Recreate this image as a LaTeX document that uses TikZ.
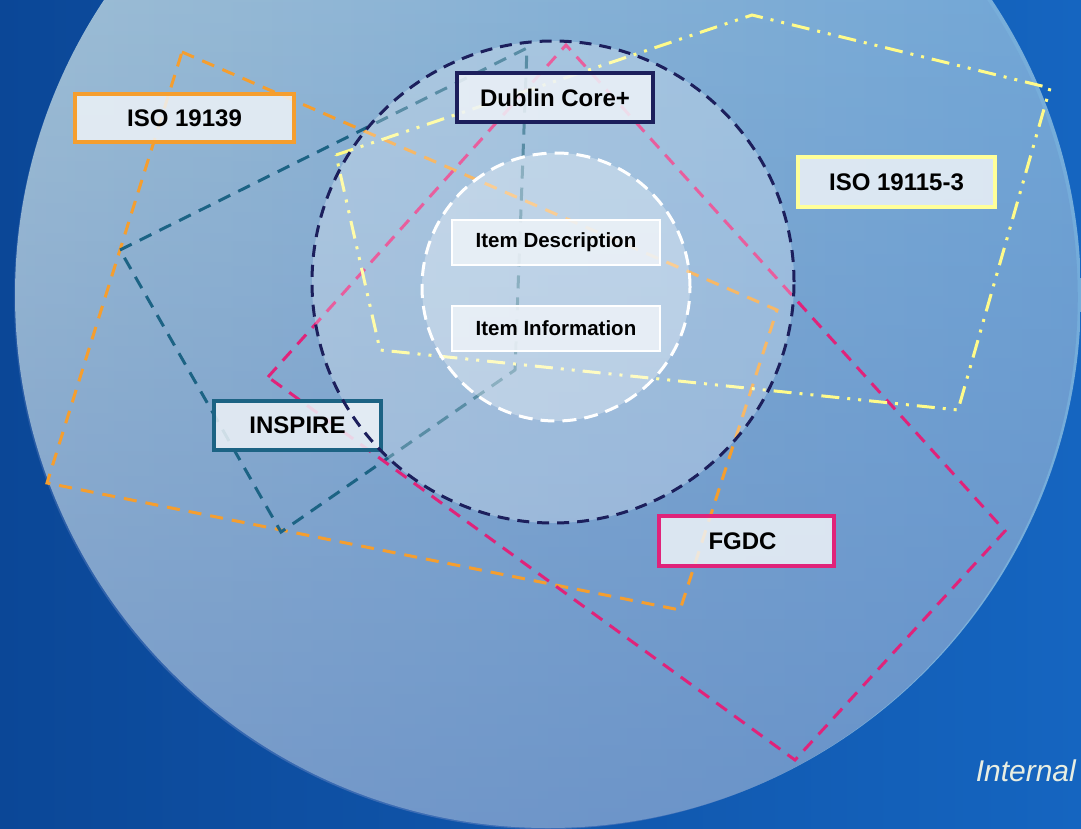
\documentclass[tikz,border=0pt]{standalone}
\usepackage{fontspec}
\setmainfont{Liberation Sans}
\usetikzlibrary{fadings}
\definecolor{bgdark}{HTML}{0B4797}
\definecolor{bglight}{HTML}{1565C0}
\definecolor{cirL}{HTML}{A8C7D8}
\definecolor{cirR}{HTML}{74ACDA}
\definecolor{cirD}{HTML}{5A7EBE}
\definecolor{orng}{HTML}{F59E2E}
\definecolor{teal}{HTML}{1C6384}
\definecolor{navy}{HTML}{1C1F5C}
\definecolor{pnk}{HTML}{E0237A}
\definecolor{yel}{HTML}{FFFB8A}
\definecolor{yelbox}{HTML}{FFFF99}
\definecolor{boxfill}{HTML}{EEF3F8}
\definecolor{inttext}{HTML}{E8EEE2}
\begin{document}
\begin{tikzpicture}[x=1pt,y=-1pt,
  dsh/.style={line width=3pt, dash pattern=on 13pt off 9pt},
  ydsh/.style={line width=3pt, dash pattern=on 18pt off 8pt on 3pt off 8pt on 3pt off 8pt},
  lbl/.style={draw, line width=3.3pt, fill=boxfill, fill opacity=0.85, draw opacity=1, text opacity=1,
    inner sep=0pt, text=black, font=\bfseries\fontsize{24}{28}\selectfont},
  itm/.style={lbl, draw=white, line width=2.8pt, font=\bfseries\fontsize{20.5}{24}\selectfont,
    minimum width=208pt, minimum height=45pt}]
\useasboundingbox (0,0) rectangle (1081,829);
\clip (0,0) rectangle (1081,829);
% background
\shade[left color=bgdark, right color=bglight] (0,0) rectangle (1081,829);
% big circle
\shade[left color=cirL, right color=cirR] (548,295) circle[radius=533pt];
\fill[cirD, opacity=0.6, path fading=north] (548,295) circle[radius=533pt];
% polygons
\coordinate (o1) at (182,52); \coordinate (o2) at (777,310);
\coordinate (o3) at (680,610); \coordinate (o4) at (47,483);
\draw[dsh, orng] (o1) -- (o2) -- (o3) -- (o4) -- cycle;
\coordinate (t1) at (120,250); \coordinate (t2) at (527,48);
\coordinate (t3) at (515,370); \coordinate (t4) at (281,532);
\draw[dsh, teal] (t1) -- (t2) -- (t3) -- (t4) -- cycle;
\coordinate (p1) at (268,377); \coordinate (p2) at (566,45);
\coordinate (p3) at (1005,531); \coordinate (p4) at (795,760);
\draw[dsh, pnk] (p1) -- (p2) -- (p3) -- (p4) -- cycle;
\coordinate (y1) at (336,155); \coordinate (y2) at (752,15);
\coordinate (y3) at (1050,88); \coordinate (y4) at (958,410);
\coordinate (y5) at (380,350);
\draw[ydsh, yel] (y1) -- (y2) -- (y3) -- (y4) -- (y5) -- cycle;
% circles
\coordinate (dc) at (553,282);
\coordinate (wc) at (556,287);
\fill[white, opacity=0.27] (dc) circle[radius=241pt];
\fill[white, opacity=0.3] (wc) circle[radius=134pt];
\draw[white, line width=3pt, dash pattern=on 14pt off 8pt] (wc) circle[radius=134pt];
% labels
\node[lbl, draw=orng, minimum width=219pt, minimum height=48pt] (iso19139) at (184.5,118) {ISO 19139};
\node[lbl, draw=navy, minimum width=196pt, minimum height=49pt] (dublin) at (555,97.5) {Dublin Core+};
\node[lbl, draw=yelbox, minimum width=197pt, minimum height=50pt] (iso19115) at (896.5,182) {ISO 19115-3};
\node[itm] (desc) at (556,242.5) {Item Description};
\node[itm] (info) at (556,328.5) {Item Information};
\node[lbl, draw=teal, minimum width=167pt, minimum height=49pt] (inspire) at (297.5,425.5) {INSPIRE};
\node[lbl, draw=pnk, minimum width=175pt, minimum height=50pt] (fgdc) at (746.5,541) {\hspace*{-8pt}FGDC};
\draw[navy, line width=3pt, dash pattern=on 12pt off 8pt] (dc) circle[radius=241pt];
\node[text=inttext, font=\itshape\fontsize{30}{34}\selectfont, anchor=east, inner sep=0pt] (internal) at (1076,771) {Internal};
\end{tikzpicture}
\end{document}
